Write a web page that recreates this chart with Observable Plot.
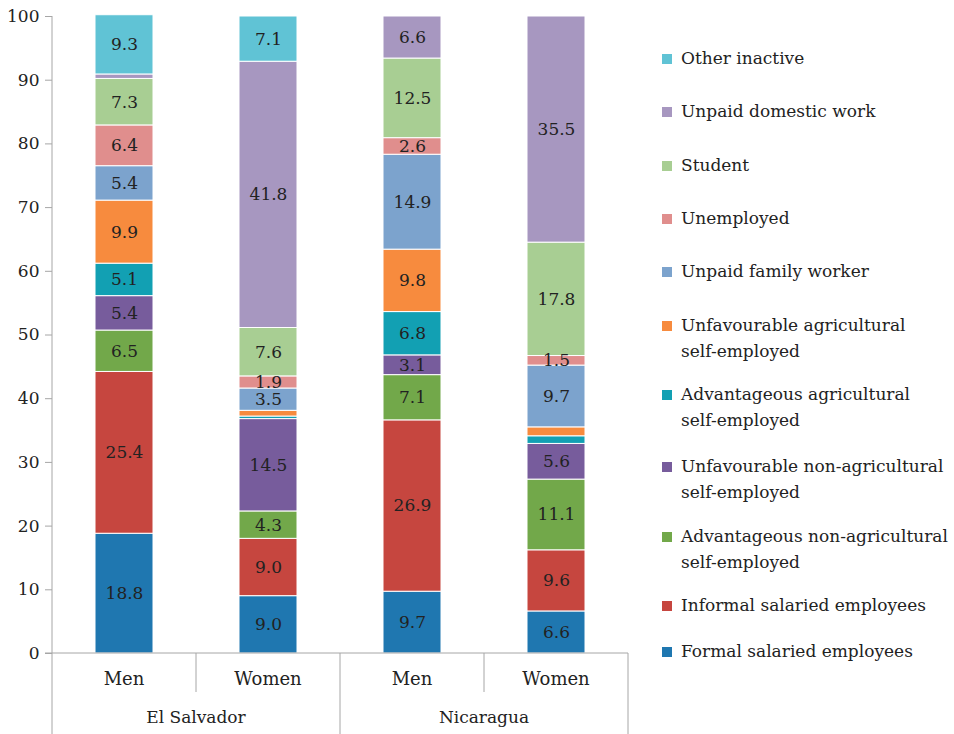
<!DOCTYPE html>
<html><head><meta charset="utf-8">
<script src="https://cdn.jsdelivr.net/npm/d3@7"></script>
<script src="https://cdn.jsdelivr.net/npm/@observablehq/plot@0.6"></script>
<style>
body{margin:0;background:#fff;font-family:"DejaVu Serif","Liberation Serif",serif;}
#wrap{position:relative;width:954px;height:734px;overflow:hidden}
.leg{position:absolute;left:662px;font-size:17px;color:#222;line-height:25.5px;white-space:nowrap}
.leg .sw{position:absolute;left:0;top:8px;width:10px;height:10px}
.leg .t{margin-left:19px}
</style></head><body><div id="wrap"></div>
<script>
// ---- data ----
const countries = ["El Salvador", "El Salvador", "Nicaragua", "Nicaragua"];
const sexes = ["Men", "Women", "Men", "Women"];
const categories = [
  "Formal salaried employees",
  "Informal salaried employees",
  "Advantageous non-agricultural self-employed",
  "Unfavourable non-agricultural self-employed",
  "Advantageous agricultural self-employed",
  "Unfavourable agricultural self-employed",
  "Unpaid family worker",
  "Unemployed",
  "Student",
  "Unpaid domestic work",
  "Other inactive"
];
const legendLabels = [
  "Formal salaried employees",
  "Informal salaried employees",
  "Advantageous non-agricultural<br>self-employed",
  "Unfavourable non-agricultural<br>self-employed",
  "Advantageous agricultural<br>self-employed",
  "Unfavourable agricultural<br>self-employed",
  "Unpaid family worker",
  "Unemployed",
  "Student",
  "Unpaid domestic work",
  "Other inactive"
];
const colors = ["#1f77b0", "#c6463f", "#72a84a", "#775c9c", "#12a0b3", "#f78b3e", "#7ca3cd", "#e08e8d", "#a8ce93", "#a797c0", "#60c3d5"];
const elSalvadorMen   = [18.8, 25.4, 6.5, 5.4, 5.1, 9.9, 5.4, 6.4, 7.3, 0.7, 9.3];
const elSalvadorWomen = [9.0, 9.0, 4.3, 14.5, 0.4, 0.9, 3.5, 1.9, 7.6, 41.8, 7.1];
const nicaraguaMen    = [9.7, 26.9, 7.1, 3.1, 6.8, 9.8, 14.9, 2.6, 12.5, 6.6, 0];
const nicaraguaWomen  = [6.6, 9.6, 11.1, 5.6, 1.2, 1.4, 9.7, 1.5, 17.8, 35.5, 0];
const yTicks = [0, 10, 20, 30, 40, 50, 60, 70, 80, 90, 100];

const series = [elSalvadorMen, elSalvadorWomen, nicaraguaMen, nicaraguaWomen];
const keys = countries.map((c, i) => c + "|" + sexes[i]);
const rows = [];
series.forEach((vals, i) => vals.forEach((v, j) => rows.push({key: keys[i], cat: categories[j], v})));

const axisGray = "#a6a6a6";
const textCol = "#222";
const fontFam = "DejaVu Serif, Liberation Serif, serif";

const plot = Plot.plot({
  width: 954,
  height: 734,
  marginTop: 16,
  marginBottom: 81,
  marginLeft: 52,
  marginRight: 326,
  style: {fontFamily: fontFam, fontSize: "17px", color: textCol, background: "#fff"},
  x: {domain: keys, paddingInner: 0.6, paddingOuter: 0.3, axis: null},
  y: {domain: [0, 100], ticks: yTicks.length - 1, tickSize: 7, tickPadding: 6, label: null},
  color: {domain: categories, range: colors},
  marks: [
    Plot.barY(rows, Plot.stackY({x: "key", y: "v", fill: "cat", stroke: "white", strokeWidth: 1})),
    Plot.text(rows, Plot.stackY({x: "key", y: "v", text: d => d.v >= 1.5 ? d.v.toFixed(1) : "", fill: textCol, fontSize: 17}))
  ]
});

document.getElementById("wrap").appendChild(plot);

// ---- axes / group dividers drawn from the plot's scales ----
const svg = d3.select(plot);
svg.selectAll('g[aria-label^="y-axis"] line, g[aria-label^="y-axis"] path').attr("stroke", axisGray);
const xs = plot.scale("x"), ys = plot.scale("y");
const y0 = ys.apply(0), yTop = ys.apply(100);
const bw = xs.bandwidth;
const step = xs.step ?? (xs.range[1] - xs.range[0]) / keys.length;
const centers = keys.map(k => xs.apply(k) + bw / 2);
const left = centers[0] - step / 2, right = centers[centers.length - 1] + step / 2;
const g = svg.append("g").attr("font-family", fontFam);
g.append("line").attr("x1", left).attr("x2", left).attr("y1", yTop).attr("y2", 734).attr("stroke", axisGray);
g.append("line").attr("x1", left - 7).attr("x2", right).attr("y1", y0).attr("y2", y0).attr("stroke", axisGray);
keys.forEach((k, i) => {
  if (i === 0) return;
  const xd = centers[i] - step / 2;
  const full = countries[i] !== countries[i - 1];
  g.append("line").attr("x1", xd).attr("x2", xd).attr("y1", y0).attr("y2", full ? 734 : y0 + 39).attr("stroke", axisGray);
});
g.append("line").attr("x1", right).attr("x2", right).attr("y1", y0).attr("y2", 734).attr("stroke", axisGray);
keys.forEach((k, i) => {
  g.append("text").attr("x", centers[i]).attr("y", y0 + 25).attr("text-anchor", "middle")
    .attr("dominant-baseline", "central").attr("fill", textCol).attr("font-size", 18).text(sexes[i]);
});
const uniq = [...new Set(countries)];
uniq.forEach(c => {
  const idx = countries.map((cc, i) => cc === c ? i : -1).filter(i => i >= 0);
  const cx = (centers[idx[0]] + centers[idx[idx.length - 1]]) / 2;
  g.append("text").attr("x", cx).attr("y", y0 + 64).attr("text-anchor", "middle")
    .attr("dominant-baseline", "central").attr("fill", textCol).attr("font-size", 17).text(c);
});

// ---- legend (top to bottom = reverse stacking order) ----
const legendCenters = [59, 112, 166, 219, 272, 326, 395, 467, 537, 606, 652];
const wrap = document.getElementById("wrap");
categories.slice().reverse().forEach((c, r) => {
  const j = categories.length - 1 - r;
  const d = document.createElement("div");
  d.className = "leg";
  d.style.top = (legendCenters[r] - 12.75) + "px";
  d.innerHTML = `<div class="sw" style="background:${colors[j]}"></div><div class="t">${legendLabels[j]}</div>`;
  wrap.appendChild(d);
});
</script>
</body></html>
